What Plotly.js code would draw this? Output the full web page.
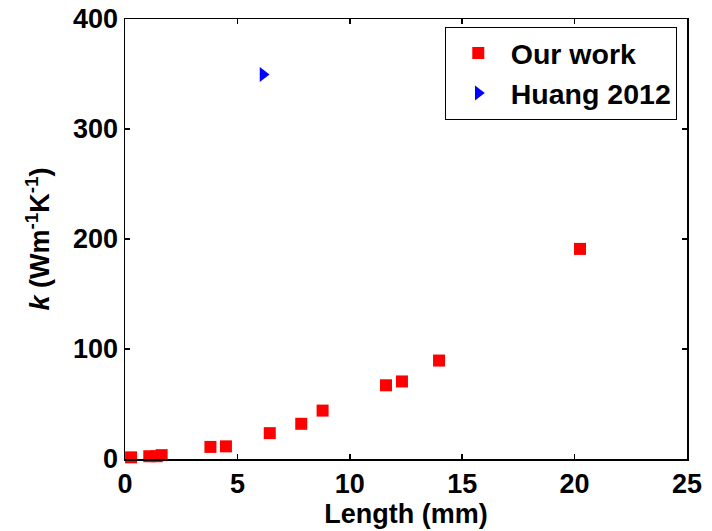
<!DOCTYPE html>
<html><head><meta charset="utf-8">
<script src="https://cdn.plot.ly/plotly-3.0.1.min.js"></script>
<style>html,body{margin:0;padding:0;background:#fff}</style>
</head><body>
<div id="chart" style="width:712px;height:531px"></div>
<script>
const ourLength = [0.27, 1.08, 1.41, 1.63, 3.8, 4.49, 6.44, 7.84, 8.79, 11.61, 12.32, 13.97, 20.24];
const ourK = [1.5, 2.5, 2.5, 3.5, 11, 11.5, 23.5, 32, 44, 67, 70.5, 89.5, 191];
const huangLength = [6.14];
const huangK = [349.5];
const xTicks = [0, 5, 10, 15, 20, 25];
const yTicks = [0, 100, 200, 300, 400];

const fnt = {family: 'Liberation Sans, Arial, sans-serif', size: 27, color: '#000', weight: 'bold'};
const legFnt = Object.assign({}, fnt, {size: 28.5});

const traces = [
  {x: ourLength, y: ourK, type: 'scatter', mode: 'markers', name: 'Our work',
   marker: {symbol: 'square', size: 12, color: '#ff0000', line: {width: 0}}, cliponaxis: false},
  {x: huangLength, y: huangK, type: 'scatter', mode: 'markers', name: 'Huang 2012',
   marker: {symbol: 'triangle-right', size: 13, color: '#0000ff', line: {width: 0}}, cliponaxis: false}
];

const axBase = {showgrid: false, zeroline: false, showline: true, linecolor: '#000', linewidth: 1.5,
  mirror: 'ticks', ticks: 'inside', ticklen: 5, tickwidth: 1.5, tickcolor: '#000', tickfont: fnt,
  automargin: false};

const layout = {
  width: 712, height: 531,
  margin: {l: 125, r: 25, t: 19, b: 72},
  paper_bgcolor: '#fff', plot_bgcolor: '#fff',
  showlegend: true,
  legend: {x: 0.569, y: 0.982, xanchor: 'left', yanchor: 'top', bordercolor: '#000', borderwidth: 1,
    bgcolor: '#fff', font: legFnt, itemwidth: 55, tracegroupgap: 0},
  xaxis: Object.assign({}, axBase, {range: [0, 25], tickvals: xTicks, ticktext: xTicks.map(String),
    title: {text: 'Length (mm)', font: fnt, standoff: 0}}),
  yaxis: Object.assign({}, axBase, {range: [0, 400], tickvals: yTicks, ticktext: yTicks.map(String),
    title: {text: '<i>k</i> (Wm<sup>-1</sup>K<sup>-1</sup>)', font: fnt, standoff: 15}})
};

Plotly.newPlot('chart', traces, layout, {displayModeBar: false, staticPlot: true});
</script>
</body></html>
